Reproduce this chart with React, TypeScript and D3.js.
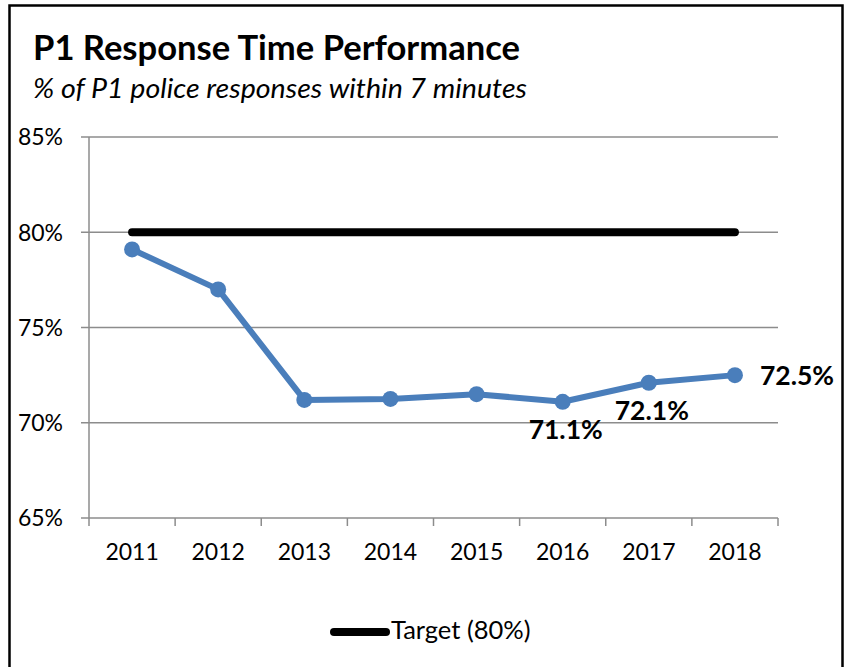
import React from "react";
import * as d3 from "d3";

const years = ["2011", "2012", "2013", "2014", "2015", "2016", "2017", "2018"];
const responseValues = [79.1, 77.0, 71.2, 71.25, 71.5, 71.1, 72.1, 72.5];
const targetValues = [80, 80, 80, 80, 80, 80, 80, 80];
const yTicks = [65, 70, 75, 80, 85];
const labelledPoints = [
  { year: "2016", value: 71.1, text: "71.1%", pos: "below" },
  { year: "2017", value: 72.1, text: "72.1%", pos: "below" },
  { year: "2018", value: 72.5, text: "72.5%", pos: "right" },
];

const W = 849;
const H = 667;
const FONT = "Lato, 'Open Sans', sans-serif";

export default function App() {
  const plotLeft = 89;
  const plotRight = 778;
  const plotTop = 137;
  const plotBottom = 518;

  const x = d3.scaleBand().domain(years).range([plotLeft, plotRight]);
  const cx = (d: string) => (x(d) as number) + x.bandwidth() / 2;
  const y = d3.scaleLinear().domain([65, 85]).range([plotBottom, plotTop]);

  const line = d3
    .line<number>()
    .x((_, i) => cx(years[i]))
    .y((d) => y(d));

  const grid = "#8c8c8c";

  return (
    <svg
      width={W}
      height={H}
      style={{ position: "absolute", left: 0, top: 0, background: "#fff" }}
      fontFamily={FONT}
    >
      <rect x={0} y={0} width={W} height={H} fill="#fff" />
      <path d={`M9.5,${H + 5}V5.5H842.5V${H + 5}`} fill="none" stroke="#000" strokeWidth={2.5} />

      <text x={33} y={60} fontSize={34} fontWeight={700} fill="#000" textLength={487} lengthAdjust="spacingAndGlyphs">
        P1 Response Time Performance
      </text>
      <text x={33} y={98} fontSize={27} fontStyle="italic" fill="#000" textLength={494} lengthAdjust="spacingAndGlyphs">
        % of P1 police responses within 7 minutes
      </text>

      {/* gridlines */}
      {yTicks.map((t) => (
        <g key={t}>
          <line x1={81} x2={plotRight} y1={y(t)} y2={y(t)} stroke={grid} strokeWidth={1.5} />
          <text x={63} y={y(t)} dy="0.36em" textAnchor="end" fontSize={23} fill="#000">
            {t}%
          </text>
        </g>
      ))}
      {/* y axis */}
      <line x1={plotLeft} x2={plotLeft} y1={plotTop} y2={plotBottom} stroke={grid} strokeWidth={1.5} />
      {/* x ticks */}
      {years.map((yr, i) => (
        <line
          key={yr}
          x1={plotLeft + i * x.step()}
          x2={plotLeft + i * x.step()}
          y1={plotBottom}
          y2={plotBottom + 8}
          stroke={grid}
          strokeWidth={1.5}
        />
      ))}
      <line x1={plotRight} x2={plotRight} y1={plotBottom} y2={plotBottom + 8} stroke={grid} strokeWidth={1.5} />
      {years.map((yr) => (
        <text key={yr} x={cx(yr)} y={560} textAnchor="middle" fontSize={23} fill="#000">
          {yr}
        </text>
      ))}

      {/* target */}
      <path d={line(targetValues) || ""} fill="none" stroke="#000" strokeWidth={8} strokeLinecap="round" />

      {/* response */}
      <path d={line(responseValues) || ""} fill="none" stroke="#4a7ebb" strokeWidth={6} strokeLinejoin="round" />
      {responseValues.map((v, i) => (
        <circle key={i} cx={cx(years[i])} cy={y(v)} r={8} fill="#4a7ebb" />
      ))}

      {labelledPoints.map((p) =>
        p.pos === "right" ? (
          <text key={p.year} x={cx(p.year) + 25} y={y(p.value)} dy="0.36em" fontSize={26.5} fontWeight={700} fill="#000">
            {p.text}
          </text>
        ) : (
          <text key={p.year} x={cx(p.year) + 3} y={y(p.value) + 37} textAnchor="middle" fontSize={26.5} fontWeight={700} fill="#000">
            {p.text}
          </text>
        )
      )}

      {/* legend */}
      <line x1={334} x2={386} y1={632} y2={632} stroke="#000" strokeWidth={8} strokeLinecap="round" />
      <text x={391} y={639} fontSize={25.5} fill="#000">
        Target (80%)
      </text>
    </svg>
  );
}
